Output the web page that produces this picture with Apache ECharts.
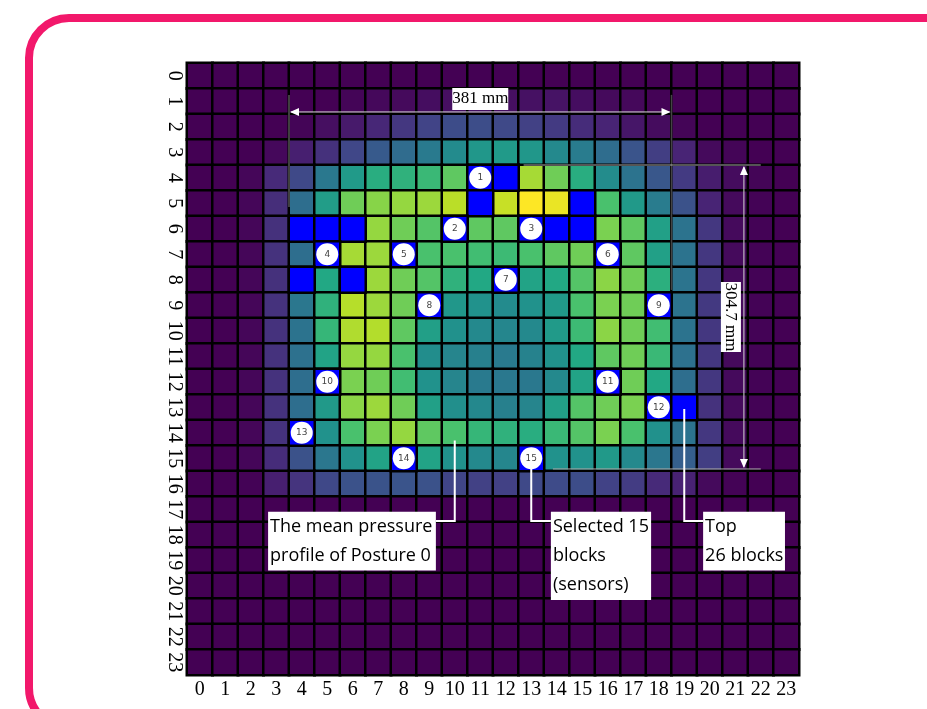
<!DOCTYPE html>
<html>
<head>
<meta charset="utf-8">
<title>Mean pressure profile of Posture 0</title>
<script src="https://cdn.jsdelivr.net/npm/echarts@6/dist/echarts.min.js"></script>
<style>
  html, body { margin: 0; padding: 0; background: #fff; }
  #main { width: 927px; height: 709px; }
</style>
</head>
<body>
<div id="main"></div>
<script>
// tick labels, same on both axes (sensor grid index)
var tickLabels = ['0','1','2','3','4','5','6','7','8','9','10','11','12','13','14','15','16','17','18','19','20','21','22','23'];

// mean pressure of posture 0 (normalised 0..1), one array per grid row, row 0 on top
var pressureRows = [
  [0,0,0,0,0,0,0,0,0,0,0,0,0,0,0,0,0,0,0,0,0,0,0,0],
  [0,0,0,0,0,0,0.01,0.02,0.025,0.035,0.04,0.045,0.04,0.045,0.05,0.035,0.025,0.02,0.005,0,0,0,0,0],
  [0,0,0,0,0.01,0.04,0.07,0.11,0.16,0.2,0.23,0.235,0.22,0.19,0.17,0.125,0.1,0.06,0.03,0.01,0,0,0,0],
  [0,0,0,0.02,0.085,0.14,0.21,0.28,0.35,0.41,0.475,0.525,0.54,0.525,0.47,0.415,0.355,0.26,0.18,0.1,0.025,0.01,0,0],
  [0,0,0.015,0.12,0.22,0.4,0.54,0.62,0.64,0.67,0.75,0.95,0.95,0.865,0.78,0.62,0.48,0.38,0.27,0.17,0.08,0.03,0.01,0],
  [0,0,0.015,0.13,0.36,0.55,0.78,0.82,0.84,0.85,0.895,0.95,0.915,1.0,0.97,0.95,0.71,0.535,0.415,0.25,0.1,0.025,0.005,0],
  [0,0,0.015,0.14,0.95,0.95,0.95,0.84,0.78,0.73,0.95,0.75,0.75,0.95,0.95,0.95,0.8,0.75,0.565,0.38,0.16,0.025,0.005,0],
  [0,0,0.015,0.145,0.36,0.95,0.865,0.85,0.95,0.71,0.71,0.69,0.68,0.71,0.75,0.78,0.95,0.75,0.565,0.38,0.16,0.025,0.005,0],
  [0,0,0.015,0.14,0.95,0.6,0.95,0.85,0.78,0.73,0.64,0.6,0.95,0.58,0.6,0.73,0.825,0.78,0.63,0.385,0.16,0.025,0.005,0],
  [0,0,0.015,0.145,0.395,0.64,0.89,0.85,0.78,0.95,0.525,0.505,0.475,0.505,0.535,0.71,0.8,0.78,0.95,0.38,0.165,0.025,0.005,0],
  [0,0,0.015,0.145,0.38,0.66,0.88,0.885,0.75,0.56,0.5,0.47,0.455,0.47,0.54,0.68,0.825,0.78,0.69,0.38,0.16,0.025,0.005,0],
  [0,0,0.015,0.145,0.37,0.58,0.84,0.84,0.71,0.485,0.45,0.43,0.41,0.44,0.505,0.6,0.75,0.78,0.67,0.37,0.16,0.025,0.005,0],
  [0,0,0.015,0.145,0.36,0.95,0.8,0.78,0.69,0.505,0.45,0.41,0.4,0.4,0.47,0.58,0.95,0.78,0.6,0.36,0.16,0.025,0.005,0],
  [0,0,0.015,0.145,0.36,0.535,0.825,0.85,0.78,0.565,0.49,0.465,0.43,0.45,0.56,0.73,0.78,0.8,0.95,0.95,0.145,0.025,0.005,0],
  [0,0,0.015,0.145,0.95,0.505,0.71,0.8,0.84,0.75,0.71,0.66,0.64,0.62,0.67,0.73,0.8,0.71,0.5,0.38,0.16,0.025,0.005,0],
  [0,0,0.015,0.125,0.25,0.395,0.505,0.58,0.95,0.58,0.505,0.47,0.455,0.95,0.505,0.505,0.535,0.47,0.395,0.3,0.18,0.025,0.005,0],
  [0,0,0.005,0.085,0.15,0.215,0.25,0.255,0.26,0.25,0.205,0.19,0.19,0.22,0.225,0.235,0.195,0.175,0.12,0.095,0.025,0.005,0,0],
  [0,0,0,0,0,0,0,0,0,0,0,0,0,0,0,0,0,0,0,0,0,0,0,0],
  [0,0,0,0,0,0,0,0,0,0,0,0,0,0,0,0,0,0,0,0,0,0,0,0],
  [0,0,0,0,0,0,0,0,0,0,0,0,0,0,0,0,0,0,0,0,0,0,0,0],
  [0,0,0,0,0,0,0,0,0,0,0,0,0,0,0,0,0,0,0,0,0,0,0,0],
  [0,0,0,0,0,0,0,0,0,0,0,0,0,0,0,0,0,0,0,0,0,0,0,0],
  [0,0,0,0,0,0,0,0,0,0,0,0,0,0,0,0,0,0,0,0,0,0,0,0],
  [0,0,0,0,0,0,0,0,0,0,0,0,0,0,0,0,0,0,0,0,0,0,0,0]
];

// top 26 blocks (col, row), painted blue
var top26Blocks = [
  [11,4],[12,4],
  [11,5],[15,5],
  [4,6],[5,6],[6,6],[10,6],[13,6],[14,6],[15,6],
  [5,7],[8,7],[16,7],
  [4,8],[6,8],[12,8],
  [9,9],[18,9],
  [5,12],[16,12],
  [18,13],[19,13],
  [4,14],
  [8,15],[13,15]
];

// selected 15 sensors (col, row, number)
var sensorBlocks = [
  [11,4,'1'],[10,6,'2'],[13,6,'3'],[5,7,'4'],[8,7,'5'],
  [16,7,'6'],[12,8,'7'],[9,9,'8'],[18,9,'9'],[5,12,'10'],
  [16,12,'11'],[18,13,'12'],[4,14,'13'],[8,15,'14'],[13,15,'15']
];

var viridis = ['#440154','#482475','#414487','#355f8d','#2a788e','#21918c',
               '#22a884','#44bf70','#7ad151','#bddf26','#fde725'];

var heatData = [];
pressureRows.forEach(function (row, r) {
  row.forEach(function (v, c) { heatData.push([c, r, v]); });
});

var serifLabel = { fontFamily: 'Liberation Serif', fontSize: 20, color: '#000', interval: 0 };

var option = {
  backgroundColor: '#fff',
  animation: false,
  grid: { left: 187, top: 63, width: 612, height: 612 },
  xAxis: {
    type: 'category',
    data: tickLabels,
    axisLine: { show: false },
    axisTick: { show: false },
    axisLabel: Object.assign({ margin: 5 }, serifLabel),
    splitLine: { show: false }
  },
  yAxis: {
    type: 'category',
    data: tickLabels,
    inverse: true,
    axisLine: { show: false },
    axisTick: { show: false },
    axisLabel: Object.assign({ margin: 3, rotate: -90 }, serifLabel),
    splitLine: { show: false }
  },
  visualMap: {
    show: false,
    type: 'continuous',
    seriesIndex: 0,
    min: 0,
    max: 1,
    inRange: { color: viridis }
  },
  series: [
    {
      name: 'mean pressure',
      type: 'heatmap',
      data: heatData,
      progressive: 0,
      itemStyle: { borderColor: '#000', borderWidth: 2.5 },
      emphasis: { disabled: true }
    },
    {
      name: 'top 26 blocks',
      type: 'heatmap',
      data: top26Blocks.map(function (b) { return [b[0], b[1], 1]; }),
      itemStyle: { color: '#0000ff', borderColor: '#000', borderWidth: 2.5 },
      emphasis: { disabled: true }
    },
    {
      name: 'selected sensors',
      type: 'scatter',
      data: sensorBlocks,
      symbol: 'circle',
      symbolSize: 22,
      z: 5,
      itemStyle: { color: '#fff', opacity: 1 },
      label: {
        show: true,
        position: 'inside',
        formatter: function (p) { return p.data[2]; },
        fontFamily: 'DejaVu Sans',
        fontSize: 9,
        color: '#444'
      },
      emphasis: { disabled: true }
    }
  ]
};

var chart = echarts.init(document.getElementById('main'));
chart.setOption(option);

// pixel helpers in "cell units": integer u/v = left/top edge of that cell
var c0 = chart.convertToPixel({ gridIndex: 0 }, [0, 0]);
var c1 = chart.convertToPixel({ gridIndex: 0 }, [1, 1]);
var cw = c1[0] - c0[0], ch = c1[1] - c0[1];
function gp(u, v) { return [c0[0] + (u - 0.5) * cw, c0[1] + (v - 0.5) * ch]; }

function seg(a, b, color, w) {
  return { type: 'line', z: 100, shape: { x1: a[0], y1: a[1], x2: b[0], y2: b[1] },
           style: { stroke: color, lineWidth: w } };
}
function path(pts, color, w) {
  return { type: 'polyline', z: 100, shape: { points: pts },
           style: { stroke: color, lineWidth: w, fill: null } };
}
function tri(pts) {
  return { type: 'polygon', z: 101, shape: { points: pts }, style: { fill: '#fff' } };
}
function box(a, b) {
  return { type: 'rect', z: 102, shape: { x: a[0], y: a[1], width: b[0] - a[0], height: b[1] - a[1] },
           style: { fill: '#fff' } };
}
function note(a, b, txt) {
  return [box(a, b), {
    type: 'text', z: 103, x: a[0] + 2, y: a[1] + 1,
    style: { text: txt, font: '18px "Open Sans"', fill: '#000', lineHeight: 29,
             align: 'left', verticalAlign: 'top' }
  }];
}

var els = [];
// outer pink frame
els.push({ type: 'rect', z: 90, shape: { x: 29, y: 18, width: 1000, height: 710, r: 40 },
           style: { fill: null, stroke: '#f2186b', lineWidth: 8 } });

// 381 mm dimension
var hy = gp(0, 1.92)[1];
var hl = gp(4, 0)[0], hr = gp(19, 0)[0];
els.push(seg(gp(4, 1.25), gp(4, 5.65), '#555', 1.5));
els.push(seg(gp(19, 1.25), gp(19, 8.9), '#444', 1.5));
els.push(seg([hl + 2, hy], [hr - 2, hy], '#d8d8d8', 1));
els.push(tri([[hl + 1, hy], [hl + 10, hy - 4], [hl + 10, hy + 4]]));
els.push(tri([[hr - 1, hy], [hr - 10, hy - 4], [hr - 10, hy + 4]]));
var lc = gp(11.5, 1.41);
els.push({ type: 'rect', z: 102, shape: { x: lc[0] - 28, y: lc[1] - 11, width: 56, height: 22 }, style: { fill: '#fff' } });
els.push({ type: 'text', z: 103, x: lc[0], y: lc[1],
           style: { text: '381 mm', font: '17px "Liberation Serif"', fill: '#000', align: 'center', verticalAlign: 'middle' } });

// 304.7 mm dimension
var vx = gp(21.84, 0)[0];
var vt = gp(0, 4)[1], vb = gp(0, 15.92)[1];
els.push(seg(gp(13.2, 4), gp(22.5, 4), '#aaa', 1));
els.push(seg(gp(14.35, 15.92), gp(22.5, 15.92), '#aaa', 1));
els.push(seg([vx, vt + 2], [vx, vb - 2], '#d8d8d8', 1));
els.push(tri([[vx, vt + 1], [vx - 4, vt + 10], [vx + 4, vt + 10]]));
els.push(tri([[vx, vb - 1], [vx - 4, vb - 10], [vx + 4, vb - 10]]));
var rc = gp(21.33, 9.96);
els.push({ type: 'rect', z: 102, shape: { x: rc[0] - 10, y: rc[1] - 35, width: 20, height: 70 }, style: { fill: '#fff' } });
els.push({ type: 'text', z: 103, x: rc[0], y: rc[1], rotation: -Math.PI / 2,
           style: { text: '304.7 mm', font: '17px "Liberation Serif"', fill: '#000', align: 'center', verticalAlign: 'middle' } });

// leader lines and notes
els.push(path([gp(10.5, 14.8), gp(10.5, 17.96), gp(9.76, 17.96)], '#fff', 2));
els.push(path([gp(13.5, 15.5), gp(13.5, 17.96), gp(14.27, 17.96)], '#fff', 2));
els.push(path([gp(19.5, 13.57), gp(19.5, 17.96), gp(20.24, 17.96)], '#fff', 2));
els = els.concat(note(gp(3.18, 17.6), gp(9.76, 19.9), 'The mean pressure\nprofile of Posture 0'));
els = els.concat(note(gp(14.27, 17.6), gp(18.2, 21.06), 'Selected 15\nblocks\n(sensors)'));
els = els.concat(note(gp(20.24, 17.6), gp(23.45, 19.9), 'Top\n26 blocks'));

chart.setOption({ graphic: { elements: els } });
</script>
</body>
</html>
